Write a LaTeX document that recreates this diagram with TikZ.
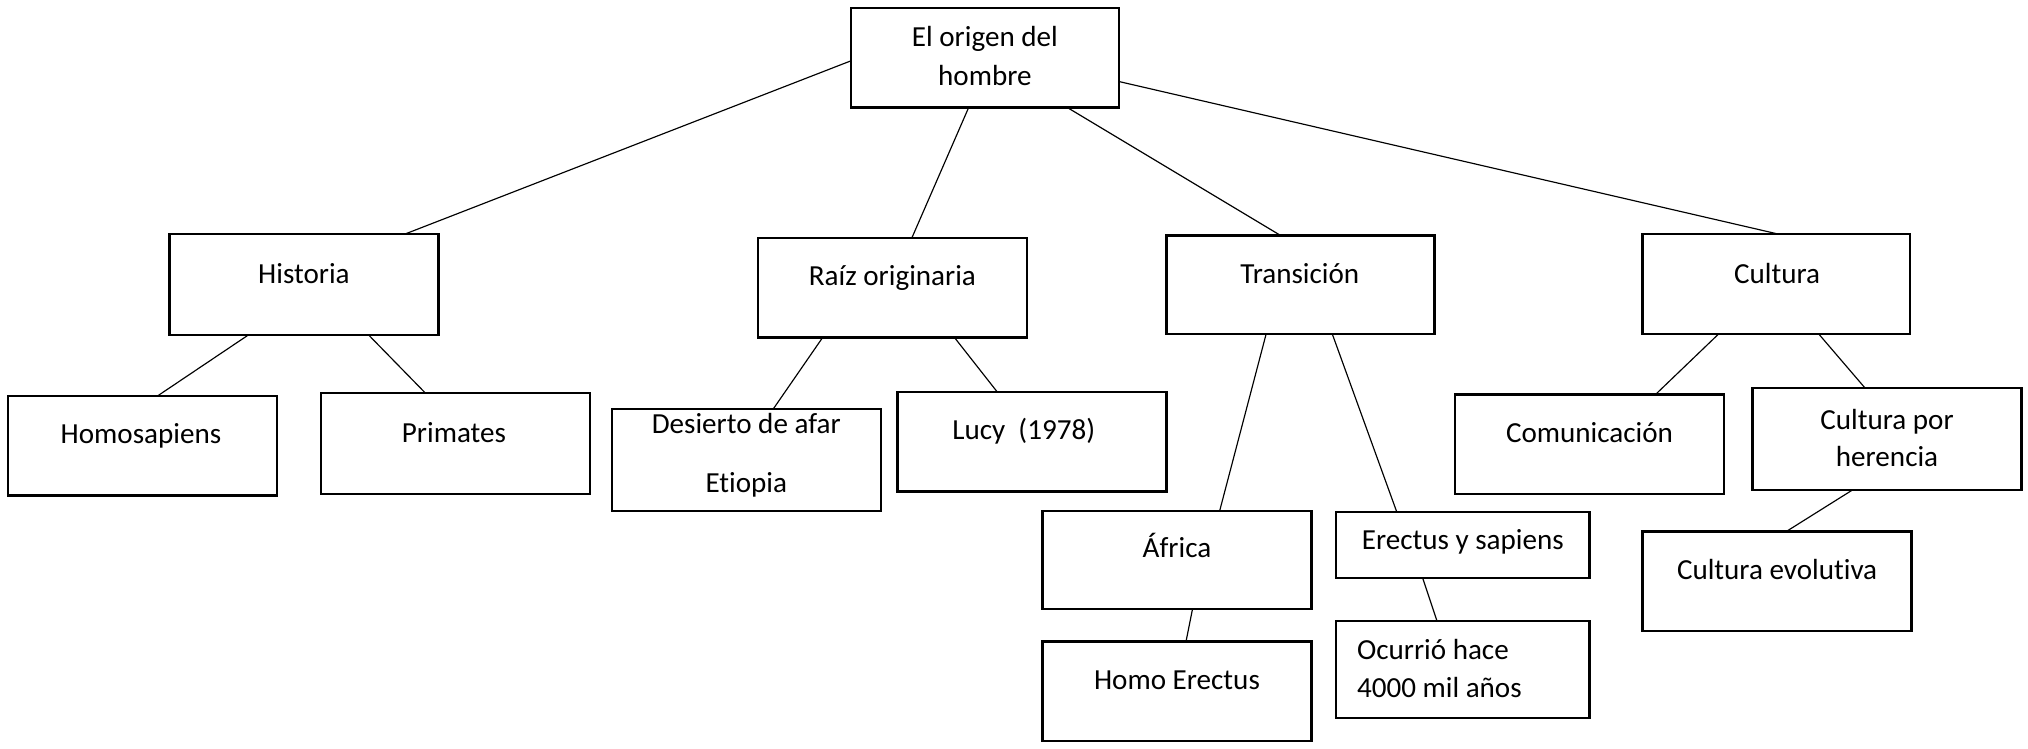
\documentclass[tikz,border=0pt]{standalone}
\usepackage{fontspec}
\setmainfont{Carlito}[Ligatures={NoCommon}]
\begin{document}
\begin{tikzpicture}[x=1pt,y=-1pt,
  box/.style={draw=black, line width=1.8pt, fill=white, inner sep=0pt, outer sep=0pt, anchor=north west},
  conn/.style={draw=black, line width=0.9pt},
  txt/.style={inner sep=0pt, anchor=base, font=\fontsize{22.5}{27}\selectfont}]
\useasboundingbox[fill=white] (0,0) rectangle (1568,578.4);
% boxes
\node[box, minimum width=207pt, minimum height=77pt] (root) at (658,6) {};
\node[box, minimum width=208pt, minimum height=78pt] (hist) at (131,181) {};
\node[box, minimum width=208pt, minimum height=77pt] (homo) at (6,306) {};
\node[box, minimum width=208pt, minimum height=78pt] (prim) at (248,304) {};
\node[box, minimum width=208pt, minimum height=77pt] (raiz) at (586,184) {};
\node[box, minimum width=208pt, minimum height=79pt] (des) at (473,316) {};
\node[box, minimum width=208pt, minimum height=77pt] (lucy) at (694,303) {};
\node[box, minimum width=207pt, minimum height=76pt] (trans) at (902,182) {};
\node[box, minimum width=208pt, minimum height=76pt] (afr) at (806,395) {};
\node[box, minimum width=208pt, minimum height=77pt] (herec) at (806,496) {};
\node[box, minimum width=196pt, minimum height=51pt] (erec) at (1033,396) {};
\node[box, minimum width=196pt, minimum height=75pt] (ocur) at (1033,480) {};
\node[box, minimum width=207pt, minimum height=77pt] (cult) at (1270,181) {};
\node[box, minimum width=208pt, minimum height=77pt] (comu) at (1125,305) {};
\node[box, minimum width=208pt, minimum height=79pt] (cph) at (1355,300) {};
\node[box, minimum width=208pt, minimum height=77pt] (cev) at (1270,411) {};
% connectors
\draw[conn] ([yshift=-41pt]root.north west) -- ([xshift=182pt]hist.north west);
\draw[conn] ([xshift=91pt]root.south west) -- ([xshift=119pt]raiz.north west);
\draw[conn] ([xshift=167pt]root.south west) -- ([xshift=88pt]trans.north west);
\draw[conn] ([yshift=-57pt]root.north east) -- ([xshift=105pt]cult.north west);
\draw[conn] ([xshift=61pt]hist.south west) -- ([xshift=116pt]homo.north west);
\draw[conn] ([xshift=154pt]hist.south west) -- ([xshift=81pt]prim.north west);
\draw[conn] ([xshift=50pt]raiz.south west) -- ([xshift=125pt]des.north west);
\draw[conn] ([xshift=152pt]raiz.south west) -- ([xshift=77pt]lucy.north west);
\draw[conn] ([xshift=77pt]trans.south west) -- ([xshift=137pt]afr.north west);
\draw[conn] ([xshift=128pt]trans.south west) -- ([xshift=47pt]erec.north west);
\draw[conn] ([xshift=116pt]afr.south west) -- ([xshift=111pt]herec.north west);
\draw[conn] ([xshift=67pt]erec.south west) -- ([xshift=78pt]ocur.north west);
\draw[conn] ([xshift=59pt]cult.south west) -- ([xshift=155pt]comu.north west);
\draw[conn] ([xshift=136pt]cult.south west) -- ([xshift=87pt]cph.north west);
\draw[conn] ([xshift=77pt]cph.south west) -- ([xshift=111pt]cev.north west);
% texts
\node[txt] (t-root1) at (761.5,36) {El origen del};
\node[txt] (t-root2) at (761.5,66) {hombre};
\node[txt] (t-hist) at (235,219) {Historia};
\node[txt] (t-homo) at (109,343) {Homosapiens};
\node[txt] (t-prim) at (351,342) {Primates};
\node[txt] (t-raiz) at (690,221) {Raíz originaria};
\node[txt] (t-des1) at (577,335) {Desierto de afar};
\node[txt] (t-des2) at (577,381) {Etiopia};
\node[txt] (t-lucy) at (791.5,340) {Lucy\ \ (1978)};
\node[txt] (t-trans) at (1005,219) {Transición};
\node[txt] (t-afr) at (910,431) {África};
\node[txt] (t-herec) at (910,533) {Homo Erectus};
\node[txt] (t-erec) at (1131,424.5) {Erectus y sapiens};
\node[txt, anchor=base west] (t-ocur1) at (1049,510) {Ocurrió hace};
\node[txt, anchor=base west] (t-ocur2) at (1049,539) {4000 mil años};
\node[txt] (t-cult) at (1374,219) {Cultura};
\node[txt] (t-comu) at (1229,342) {Comunicación};
\node[txt] (t-cph1) at (1459,332) {Cultura por};
\node[txt] (t-cph2) at (1459,360.5) {herencia};
\node[txt] (t-cev) at (1374,448) {Cultura evolutiva};
\end{tikzpicture}
\end{document}
